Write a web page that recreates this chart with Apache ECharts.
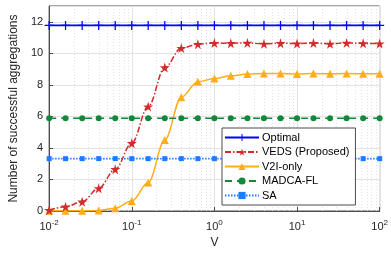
<!DOCTYPE html>
<html>
<head>
<meta charset="utf-8">
<script src="https://cdn.jsdelivr.net/npm/echarts@6/dist/echarts.min.js"></script>
<style>
  html, body { margin: 0; padding: 0; background: #fff; }
  #chart { width: 391px; height: 255px; }
</style>
</head>
<body>
<div id="chart"></div>
<script>
// sampled V values (log spaced, 5 per decade)
var vValues = [0.01, 0.0158, 0.0251, 0.0398, 0.0631, 0.1, 0.158, 0.251, 0.398, 0.631,
               1, 1.58, 2.51, 3.98, 6.31, 10, 15.8, 25.1, 39.8, 63.1, 100];

var optimal = [11.77, 11.77, 11.77, 11.77, 11.77, 11.77, 11.77, 11.77, 11.77, 11.77,
               11.77, 11.77, 11.77, 11.77, 11.77, 11.77, 11.77, 11.77, 11.77, 11.77, 11.77];
var veds = [0.05, 0.27, 0.59, 1.44, 2.65, 4.3, 6.62, 9.1, 10.33, 10.58,
            10.65, 10.64, 10.66, 10.6, 10.64, 10.62, 10.65, 10.6, 10.66, 10.63, 10.62];
var v2iOnly = [0.02, 0.01, 0.01, 0.03, 0.18, 0.63, 1.8, 4.5, 7.22, 8.2,
               8.4, 8.57, 8.68, 8.72, 8.72, 8.68, 8.72, 8.7, 8.72, 8.7, 8.7];
var madca = [5.88, 5.88, 5.88, 5.88, 5.88, 5.88, 5.88, 5.88, 5.88, 5.88,
             5.88, 5.88, 5.88, 5.88, 5.88, 5.88, 5.88, 5.88, 5.88, 5.88, 5.88];
var sa = [3.32, 3.32, 3.32, 3.32, 3.32, 3.32, 3.32, 3.32, 3.32, 3.32,
          3.32, 3.32, 3.32, 3.32, 3.32, 3.32, 3.32, 3.32, 3.32, 3.32, 3.32];

var seriesNames = ['Optimal', 'VEDS (Proposed)', 'V2I-only', 'MADCA-FL', 'SA'];

var plusPath = 'path://M4.3,0H5.7V4.3H10V5.7H5.7V10H4.3V5.7H0V4.3H4.3Z';
var starPath = 'path://M50,0L61,35L98,35L68,57L79,91L50,70L21,91L32,57L2,35L39,35Z';

function pairs(ys) {
    var out = [];
    for (var i = 0; i < vValues.length; i++) out.push([vValues[i], ys[i]]);
    return out;
}

// minor grid lines at 2..9 of each decade
var minorLines = [];
for (var d = -2; d < 2; d++) {
    for (var m = 2; m < 10; m++) minorLines.push({ xAxis: m * Math.pow(10, d) });
}

var font = 'Liberation Sans, Arial, sans-serif';
var chart = echarts.init(document.getElementById('chart'));

chart.setOption({
    animation: false,
    grid: {
        left: 43, right: 7, top: 6, bottom: 44,
        show: true, borderColor: '#4d4d4d', borderWidth: 1
    },
    legend: {
        data: seriesNames,
        orient: 'vertical',
        left: 222, top: 128,
        itemWidth: 34, itemHeight: 9, itemGap: 3.5,
        padding: [4, 6, 4, 2],
        backgroundColor: '#fff',
        borderColor: '#4d4d4d', borderWidth: 1, borderRadius: 0,
        textStyle: { fontFamily: font, fontSize: 11, color: '#000', padding: [0, 0, 0, -2] }
    },
    xAxis: {
        type: 'log', logBase: 10, min: 0.01, max: 100,
        name: 'V', nameLocation: 'middle', nameGap: 24,
        nameTextStyle: { fontFamily: font, fontSize: 12, color: '#262626' },
        axisLine: { show: true, lineStyle: { color: '#4d4d4d' } },
        axisTick: { show: true, inside: true, length: 4, lineStyle: { color: '#4d4d4d' } },
        splitLine: { show: true, lineStyle: { color: '#e3e3e3', width: 1 } },
        axisLabel: {
            margin: 8, color: '#262626', fontFamily: font,
            formatter: function (v) {
                return '{b|10}{s|' + Math.round(Math.log10(v)) + '}';
            },
            rich: {
                b: { fontSize: 11, fontFamily: font, color: '#262626' },
                s: { fontSize: 8, fontFamily: font, color: '#262626', padding: [0, 0, 7, 0] }
            }
        }
    },
    yAxis: {
        type: 'value', min: 0, max: 13, interval: 2,
        name: 'Number of successful aggregations', nameLocation: 'middle', nameGap: 24,
        nameTextStyle: { fontFamily: font, fontSize: 12, color: '#262626' },
        axisLine: { show: true, lineStyle: { color: '#4d4d4d' } },
        axisTick: { show: true, inside: true, length: 4, lineStyle: { color: '#4d4d4d' } },
        splitLine: { show: true, lineStyle: { color: '#e3e3e3', width: 1 } },
        axisLabel: { showMaxLabel: false, fontFamily: font, fontSize: 11, color: '#262626', margin: 6 }
    },
    series: [
        {
            name: 'Optimal', type: 'line', data: pairs(optimal),
            color: '#0000ff', symbol: plusPath, symbolSize: 9,
            lineStyle: { width: 1.6, color: '#0000ff' },
            itemStyle: { color: '#0000ff' }, z: 5
        },
        {
            name: 'VEDS (Proposed)', type: 'line', data: pairs(veds),
            smooth: 0.35, smoothMonotone: 'x',
            color: '#d22b2b', symbol: starPath, symbolSize: 10,
            lineStyle: { width: 1.5, color: '#d22b2b', type: [6, 2, 1.5, 2] },
            itemStyle: { color: '#d22b2b' }, z: 4
        },
        {
            name: 'V2I-only', type: 'line', data: pairs(v2iOnly),
            smooth: 0.35, smoothMonotone: 'x',
            color: '#ffae1a', symbol: 'triangle', symbolSize: 8,
            lineStyle: { width: 1.5, color: '#ffae1a' },
            itemStyle: { color: '#ffae1a' }, z: 3
        },
        {
            name: 'MADCA-FL', type: 'line', data: pairs(madca),
            color: '#12893a', symbol: 'circle', symbolSize: 6,
            lineStyle: { width: 1.6, color: '#12893a', type: [7, 5] },
            itemStyle: { color: '#12893a' }, z: 3
        },
        {
            name: 'SA', type: 'line', data: pairs(sa),
            color: '#1a7cff', symbol: 'rect', symbolSize: 5,
            lineStyle: { width: 1.6, color: '#1a7cff', type: [1.5, 1.5] },
            itemStyle: { color: '#1a7cff' }, z: 3,
            markLine: {
                silent: true, symbol: 'none', z: 0,
                label: { show: false },
                lineStyle: { color: '#e3e3e3', type: [1, 2], width: 1 },
                data: minorLines
            }
        }
    ]
});
</script>
</body>
</html>
